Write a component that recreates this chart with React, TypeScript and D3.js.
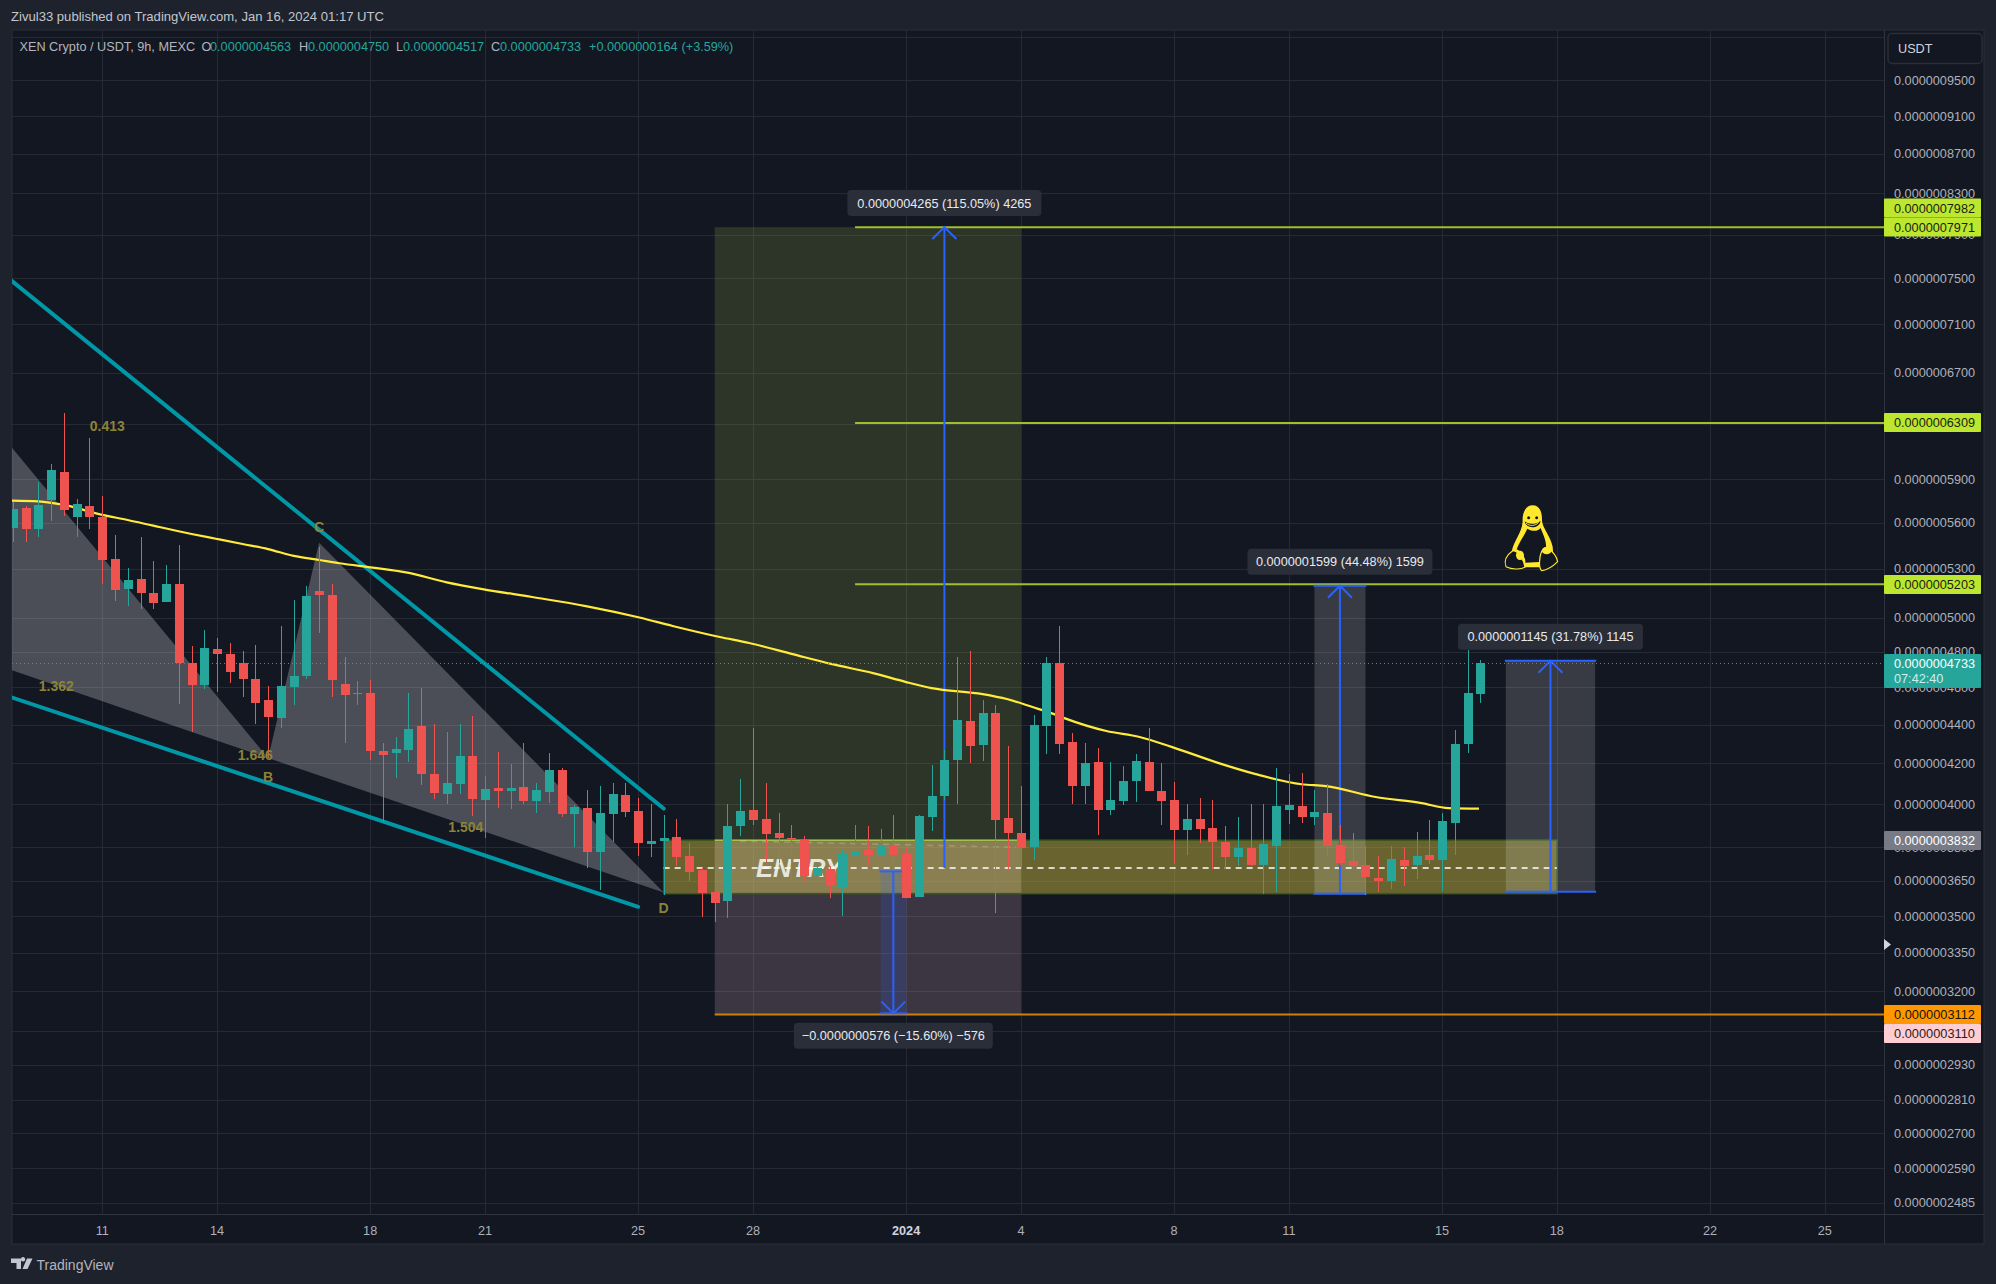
import React from "react";
import * as d3 from "d3";

// Prices are in units of 0.0000000001 USDT
const opens = [
  5566,5700,5560,5756,5950,5640,5713,5640,5362,5175,
  5235,5149,5096,5204,4733,4614,4816,4787,4735,4646,
  4530,4435,4603,4664,5161,5136,4618,4565,4568,4263,
  4253,4270,4392,4147,4051,4099,4237,4021,4079,4064,
  4084,4017,4061,4167,3955,3982,3779,3955,4045,3967,
  3816,3828,3847,3760,3698,3601,3563,3897,3972,3930,
  3865,3842,3833,3672,3701,3623,3760,3787,3765,3805,
  3769,3580,3939,4040,4217,4418,4293,4460,3934,3865,
  3801,4392,4735,4309,4089,4207,3972,4015,4112,4207,
  4064,4020,3879,3930,3888,3824,3755,3796,3720,3805,
  3972,3991,3939,3958,3810,3738,3720,3663,3650,3742,
  3720,3765,3742,3911,4298,4563,
];
const highs = [
  5742,5713,5879,6007,6382,5761,6197,5782,5518,5305,
  5505,5350,5324,5452,4833,4926,4879,4850,4804,4838,
  4607,4950,5106,5192,5440,5204,4771,4634,4640,4304,
  4335,4568,4596,4402,4361,4402,4444,4137,4258,4197,
  4304,4103,4253,4177,3996,4069,4089,4103,4103,4030,
  4001,3948,3930,3819,3705,3707,4001,4122,4381,4103,
  3958,3902,3851,3716,3716,3792,3902,3897,3884,3948,
  3801,3948,4192,4268,4769,4804,4530,4503,4288,4089,
  4449,4769,4950,4355,4304,4278,4207,4187,4247,4381,
  4202,4107,4001,4030,4020,3897,3939,4001,4001,4177,
  4147,4152,4069,4097,3902,3865,3805,3760,3805,3801,
  3870,3925,3958,4371,4810,4750,
];
const lows = [
  5474,5474,5507,5613,5647,5507,5560,5206,5102,5071,
  5053,5053,5096,4510,4362,4592,4576,4625,4548,4404,
  4226,4383,4505,4647,4910,4548,4305,4505,4217,3916,
  4129,4207,4094,4026,4002,4051,3945,3844,3983,3978,
  4002,3959,4007,3941,3802,3708,3611,3825,3941,3761,
  3757,3588,3716,3650,3497,3476,3493,3851,3902,3735,
  3727,3640,3650,3628,3575,3501,3711,3716,3698,3698,
  3575,3580,3874,4020,4001,4202,4212,3512,3702,3702,
  3742,4247,4247,4001,4001,3856,3948,3996,4011,4064,
  3902,3725,3765,3819,3702,3702,3716,3716,3593,3601,
  3907,3911,3902,3765,3720,3702,3588,3601,3615,3628,
  3658,3725,3606,3765,4253,4517,
];
const closes = [
  5693,5560,5720,5964,5688,5727,5640,5358,5169,5229,
  5150,5090,5204,4733,4614,4821,4789,4687,4647,4515,
  4440,4607,4662,5130,5138,4642,4557,4568,4264,4242,
  4273,4376,4148,4056,4103,4237,4026,4074,4064,4079,
  4017,4069,4167,3955,3986,3779,3958,4050,3964,3821,
  3828,3842,3755,3689,3597,3554,3897,3967,3925,3861,
  3842,3840,3672,3707,3628,3769,3783,3765,3810,3765,
  3575,3944,4040,4217,4423,4288,4460,3925,3865,3796,
  4397,4735,4298,4089,4202,3972,4020,4112,4212,4064,
  4015,3879,3930,3884,3824,3755,3796,3720,3815,3991,
  3996,3939,3963,3805,3729,3716,3667,3650,3747,3716,
  3760,3742,3920,4298,4568,4733,
];

const emaBars = [-0.1,2,4,7,9,11,14,16,18,20,22,24,25.6,28.2,30.8,34,36.8,40.7,44.9,49.1,51.7,55.4,57.7,61.1,64.2,67.4,70,72,76,77.9,79.9,81.6,82.4,85.7,88.3,90.8,94.5,97.4,101,102.9,106.8,110.4,112.5,114.9];
const emaValues = [5749,5744,5720,5652,5618,5580,5525,5492,5459,5426,5382,5356,5335,5307,5277,5215,5173,5124,5069,5000,4950,4885,4850,4786,4729,4679,4629,4596,4563,4536,4493,4455,4434,4366,4335,4284,4202,4147,4097,4088,4035,4006,3982,3979];

const priceTicks = [10000,9500,9100,8700,8300,7900,7500,7100,6700,6300,5900,5600,5300,5000,4800,4600,4400,4200,4000,3800,3650,3500,3350,3200,3050,2930,2810,2700,2590,2485];
const timeTickBars = [7,16,28,37,49,58,70,79,91,100,112,121,133,142];
const timeTickLabels = ["11","14","18","21","25","28","2024","4","8","11","15","18","22","25"];

const targetLevels = [7971,6309,5203];
const stopLevel = 3112;
const entryLevel = 3832;
const dashLevel = 3707;
const lastClose = 4733;

const upperChannel: [number, number][] = [[-1, 7560],[51, 3980]];
const lowerChannel: [number, number][] = [[-1, 4566],[49, 3539]];
const patternLeft: [number, number][] = [[-0.2, 6140],[20, 4227],[-0.2, 4698]];
const patternRight: [number, number][] = [[20, 4227],[24, 5467],[51, 3600]];

const harmonicLabels: [string, number, number][] = [
  ["0.413",7.4,6278],["1.362",3.4,4600],["1.646",19,4235],["B",20,4128],["C",24,5560],["1.504",35.5,3885],["D",51,3529],
];

const ranges = [
  { from: 3707, to: 7972, left: 73, right: 73, mid: 73, w: 194, label: "0.0000004265 (115.05%) 4265", fill: false },
  { from: 3692, to: 3116, left: 68, right: 70, mid: 69, w: 199, label: "\u22120.0000000576 (\u221215.60%) \u2212576", fill: true },
  { from: 3595, to: 5194, left: 102, right: 106, mid: 104, w: 185, label: "0.0000001599 (44.48%) 1599", fill: true },
  { from: 3603, to: 4748, left: 117, right: 124, mid: 120.5, w: 185, label: "0.0000001145 (31.78%) 1145", fill: true },
];

const FONT = "'Liberation Sans', Arial, sans-serif";
const TEAL = "#26a69a";
const RED = "#ef5350";
const BLUE = "#2962ff";
const LIME = "#9fbf2e";
const PANEL = "#131722";

const W = 1996, H = 1284;
const L = 12, T = 30, R = 1884, B = 1214, FR = 1984, FB = 1244;

const x = d3.scaleLinear().domain([0, 115]).range([12.9, 12.9 + 115 * 12.76]);
const y = d3.scaleLog().domain([9500, 2485]).range([80.3, 1202.75]);
const line = d3.line<[number, number]>().x((d) => x(d[0])).y((d) => y(d[1]));
const emaLine = d3.line<number>().x((_, i) => x(emaBars[i])).y((d) => y(d)).curve(d3.curveMonotoneX);

const priceText = (v: number) => (v / 1e10).toFixed(10);

function Badge({ top, h, fill, color, text, sub, bold }: any) {
  return (
    <g>
      <rect x={R} y={top} width={97} height={h} rx={1} fill={fill} />
      <text x={1894} y={top + 14} fontSize={12.7} fill={color} fontWeight={bold ? 700 : 400} textLength={81} lengthAdjust="spacingAndGlyphs">{text}</text>
      {sub ? <text x={1894} y={top + 29} fontSize={12.7} fill="#cfeee9">{sub}</text> : null}
    </g>
  );
}

function Penguin() {
  return (
    <g transform="translate(1440,480) scale(0.3333)">
      <path d="M278 76 C298 76 307 95 306 122 C308 145 330 165 338 200 L340 225 L300 262 L255 262 L215 215 C222 180 245 160 248 125 C246 100 256 76 278 76Z" fill="#ffe82e" />
      <path d="M262 146 C280 156 294 154 302 144 C310 165 320 185 318 202 C305 200 300 225 298 246 L256 248 C258 232 242 212 230 208 C238 185 252 168 262 146Z" fill={PANEL} />
      <path d="M254 124 C262 134 292 134 302 122 C298 148 258 148 254 124Z" fill={PANEL} />
      <path d="M258 129 C268 139 286 139 296 127" fill="none" stroke="#ffe82e" strokeWidth={3} />
      <circle cx={266} cy={113} r={4.5} fill={PANEL} />
      <circle cx={290} cy={113} r={4.5} fill={PANEL} />
      <path d="M218 212 C235 212 252 240 255 262 C240 270 215 268 198 260 C190 240 200 225 218 212Z" fill={PANEL} stroke="#ffe82e" strokeWidth={3.5} />
      <path d="M322 202 C335 212 350 230 353 245 C340 258 320 270 305 272 C295 262 298 230 305 214 C310 208 316 204 322 202Z" fill={PANEL} stroke="#ffe82e" strokeWidth={3.5} />
      <ellipse cx={320} cy={212} rx={14} ry={11} fill="#ffe82e" />
      <ellipse cx={240} cy={226} rx={12} ry={14} fill="#ffe82e" />
    </g>
  );
}

export default function App() {
  const yEntry = y(entryLevel);
  return (
    <svg width={W} height={H} viewBox={`0 0 ${W} ${H}`} style={{ position: "absolute", left: 0, top: 0, display: "block" }} fontFamily={FONT}>
      <defs>
        <clipPath id="plot"><rect x={L} y={T} width={R - L} height={B - T} /></clipPath>
      </defs>
      <rect width={W} height={H} fill="#1e222d" />
      <rect x={L} y={T} width={FR - L} height={FB - T} fill={PANEL} stroke="#2a2e39" strokeWidth={1} />

      <text x={11} y={21} fontSize={13} fill="#c3c6ce" textLength={373} lengthAdjust="spacingAndGlyphs">Zivul33 published on TradingView.com, Jan 16, 2024 01:17 UTC</text>

      <g clipPath="url(#plot)">
        {/* grid */}
        {priceTicks.map((p) => (
          <line key={p} x1={L} x2={R} y1={Math.round(y(p)) + 0.5} y2={Math.round(y(p)) + 0.5} stroke="#262a35" />
        ))}
        {timeTickBars.map((b) => (
          <line key={b} x1={Math.round(x(b)) + 0.5} x2={Math.round(x(b)) + 0.5} y1={T} y2={B} stroke="#262a35" />
        ))}

        {/* long position */}
        <rect x={x(55)} width={x(79) - x(55)} y={y(7971)} height={yEntry - y(7971)} fill="#a4c14f" fillOpacity={0.18} />
        <rect x={x(55)} width={x(79) - x(55)} y={yEntry} height={y(stopLevel) - yEntry} fill="#e0adc2" fillOpacity={0.2} />

        {/* entry zone */}
        <rect x={x(51)} width={x(121) - x(51)} y={yEntry} height={y(3595) - yEntry} fill="#bfb13c" fillOpacity={0.5} stroke="#3b5a1e" strokeWidth={1.5} />
        <rect x={x(55)} width={x(79) - x(55)} y={yEntry + 1} height={y(3595) - yEntry - 2} fill="#ffffff" fillOpacity={0.09} />
        <line x1={x(55)} x2={x(79)} y1={yEntry} y2={yEntry} stroke="#a4c14f" strokeWidth={1.5} />
        <text x={756} y={877} fontSize={26} fontWeight={700} fontStyle="italic" fill="#e8e6dc" textLength={86} lengthAdjust="spacingAndGlyphs">ENTRY</text>

        {/* harmonic pattern */}
        <path d={line(patternLeft) + "Z"} fill="#ffffff" fillOpacity={0.24} />
        <path d={line(patternRight) + "Z"} fill="#ffffff" fillOpacity={0.24} />

        {/* channel */}
        <path d={line(upperChannel) as string} fill="none" stroke="#0097a7" strokeWidth={4} strokeLinecap="round" />
        <path d={line(lowerChannel) as string} fill="none" stroke="#0097a7" strokeWidth={4} strokeLinecap="round" />

        {/* range fills */}
        {ranges.filter((r) => r.fill).map((r) => (
          <rect key={r.label} x={x(r.left)} width={x(r.right) - x(r.left)} y={Math.min(y(r.from), y(r.to))} height={Math.abs(y(r.to) - y(r.from))}
            fill={r.from > r.to ? "#2962ff" : "#ffffff"} fillOpacity={r.from > r.to ? 0.17 : 0.155} />
        ))}

        {/* levels */}
        {targetLevels.map((p) => (
          <line key={p} x1={x(66)} x2={R} y1={y(p)} y2={y(p)} stroke={LIME} strokeWidth={2} />
        ))}
        <line x1={x(55)} x2={R} y1={y(stopLevel)} y2={y(stopLevel)} stroke="#d07f0c" strokeWidth={2} />
        <line x1={x(51)} x2={x(121)} y1={y(dashLevel)} y2={y(dashLevel)} stroke="#ffffff" strokeWidth={1.5} strokeDasharray="6 5" />
        <line x1={x(57)} x2={x(78.6)} y1={y(3828)} y2={y(3800)} stroke="#ffffff" strokeOpacity={0.2} strokeWidth={1.5} strokeDasharray="6 5" />

        {/* range arrows */}
        {ranges.map((r) => {
          const up = r.to > r.from;
          const tip = y(r.to);
          const xm = x(r.mid);
          const s = up ? 1 : -1;
          return (
            <g key={r.label} stroke={BLUE} strokeWidth={2} fill="none">
              <line x1={xm} x2={xm} y1={y(r.from)} y2={tip} />
              <path d={`M${xm - 12},${tip + s * 12}L${xm},${tip}L${xm + 12},${tip + s * 12}`} />
              {r.fill ? (
                <>
                  <line x1={x(r.left) - 1} x2={x(r.right) + 1} y1={y(r.from)} y2={y(r.from)} />
                  <line x1={x(r.left) - 1} x2={x(r.right) + 1} y1={tip} y2={tip} />
                </>
              ) : null}
            </g>
          );
        })}

        {/* moving average */}
        <path d={emaLine(emaValues) as string} fill="none" stroke="#ffeb3b" strokeWidth={2.2} />

        <line x1={L} x2={R} y1={y(lastClose)} y2={y(lastClose)} stroke={TEAL} strokeWidth={1} strokeDasharray="1 3" />

        {/* candles */}
        <g shapeRendering="crispEdges">
          {opens.map((o, i) => {
            const c = closes[i];
            const col = c >= o ? TEAL : RED;
            const cx = Math.round(x(i));
            const top = Math.round(y(Math.max(o, c)));
            const bot = Math.round(y(Math.min(o, c)));
            return (
              <g key={i} fill={col}>
                <rect x={cx} width={1} y={y(highs[i])} height={y(lows[i]) - y(highs[i])} />
                <rect x={cx - 4} width={9} y={top} height={Math.max(bot - top, 1)} />
              </g>
            );
          })}
        </g>

        {harmonicLabels.map(([t, b, p]) => (
          <text key={t} x={x(b)} y={y(p)} fontSize={14} fontWeight={700} fill="#8c8338" textAnchor="middle" dominantBaseline="middle">{t}</text>
        ))}
        <Penguin />
      </g>

      {/* measure labels */}
      {ranges.map((r) => {
        const xm = x(r.mid);
        const up = r.to > r.from;
        const top = up ? y(r.to) - 37 : y(r.to) + 9.5;
        return (
          <g key={r.label}>
            <rect x={xm - r.w / 2} y={top} width={r.w} height={26} rx={4} fill="#2a2e39" />
            <text x={xm} y={top + 17.5} fontSize={12.7} fill="#e9eaee" textAnchor="middle">{r.label}</text>
          </g>
        );
      })}

      {/* legend */}
      <g fontSize={12.7}>
        <text x={19.5} y={51} fill="#b2b5be">XEN Crypto / USDT, 9h, MEXC</text>
        <text x={201.5} y={51} fill="#b2b5be">O</text>
        <text x={210} y={51} fill={TEAL}>{priceText(4563)}</text>
        <text x={299} y={51} fill="#b2b5be">H</text>
        <text x={308} y={51} fill={TEAL}>{priceText(4750)}</text>
        <text x={396} y={51} fill="#b2b5be">L</text>
        <text x={403} y={51} fill={TEAL}>{priceText(4517)}</text>
        <text x={491} y={51} fill="#b2b5be">C</text>
        <text x={500} y={51} fill={TEAL}>{priceText(4733)}</text>
        <text x={589} y={51} fill={TEAL}>+{priceText(164)}</text>
        <text x={681.5} y={51} fill={TEAL}>(+3.59%)</text>
      </g>

      {/* price axis */}
      <line x1={R + 0.5} x2={R + 0.5} y1={T} y2={FB} stroke="#2f333e" />
      <line x1={L} x2={FR} y1={B + 0.5} y2={B + 0.5} stroke="#2f333e" />
      <g fontSize={12.7} fill="#aeb1ba">
        {priceTicks.filter((p) => p < 10000).map((p) => (
          <text key={p} x={1894} y={y(p) + 4.5}>{priceText(p)}</text>
        ))}
      </g>
      <rect x={1888} y={33.5} width={94} height={30} rx={4} fill={PANEL} stroke="#2a2e39" strokeWidth={1.5} />
      <text x={1898} y={53} fontSize={12.7} fill="#d1d4dc">USDT</text>

      <Badge top={198.5} h={19} fill="#bce72e" color="#1a1d12" text={priceText(7982)} />
      <Badge top={217.5} h={19} fill="#bce72e" color="#1a1d12" text={priceText(7971)} />
      <Badge top={413} h={19} fill="#bce72e" color="#1a1d12" text={priceText(6309)} />
      <Badge top={575} h={19} fill="#bce72e" color="#1a1d12" text={priceText(5203)} />
      <Badge top={654} h={34} fill={TEAL} color="#ffffff" text={priceText(4733)} sub="07:42:40" />
      <Badge top={831} h={19} fill="#787b86" color="#ffffff" text={priceText(3832)} />
      <Badge top={1005} h={19} fill="#ff9800" color="#1a1205" text={priceText(3112)} />
      <Badge top={1024} h={19} fill="#ffcdd2" color="#2a2020" text={priceText(3110)} />
      <path d="M1884,939L1891,944.5L1884,950Z" fill="#d1d4dc" />

      {/* time axis */}
      {timeTickBars.map((b, i) => (
        <text key={b} x={x(b)} y={1234.5} fontSize={12.7} textAnchor="middle" fill={timeTickLabels[i] === "2024" ? "#d1d4dc" : "#aeb1ba"} fontWeight={timeTickLabels[i] === "2024" ? 700 : 400}>{timeTickLabels[i]}</text>
      ))}

      {/* logo */}
      <path d="M11,1258.5H21V1269H16.5V1263H11ZM23,1261.5a2.2,2.2 0 1 1 0.01,0ZM27,1258.5H32.5L27.5,1269H22.5Z" fill="#c3c6ce" />
      <text x={36.5} y={1270} fontSize={14} fill="#b2b5be" textLength={77} lengthAdjust="spacingAndGlyphs">TradingView</text>
    </svg>
  );
}
